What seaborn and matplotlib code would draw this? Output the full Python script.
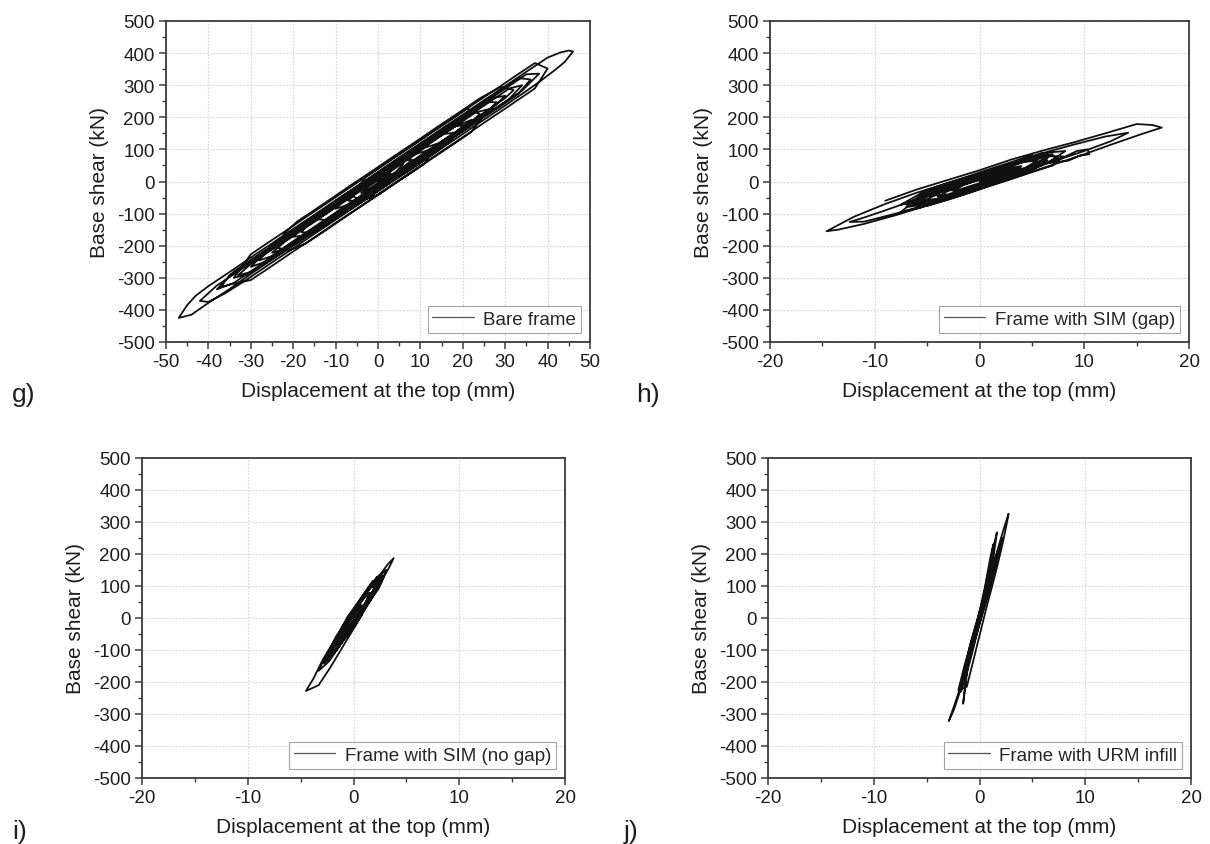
import matplotlib
matplotlib.use("Agg")
import matplotlib.pyplot as plt
from matplotlib.ticker import MultipleLocator
import seaborn as sns

# hysteresis traces: displacement at the top (mm) and base shear (kN)
# one line per half cycle

bare_disp = [0,
             2, 4, 6,
             4, 1, -2, -5, -7,
             -5, -2, 2, 6, 9, 12,
             9, 5, 1, -2, -4,
             -2, 0, 3,
             1, -2, -6, -10, -12, -14,
             -12, -8, -4, 0, 4, 8, 12, 15, 18,
             15, 11, 7, 3, -1, -5, -8, -10,
             -7, -3, 1, 5, 8,
             5, 2, -2, -6, -10, -14, -17, -20,
             -17, -13, -8, -3, 2, 7, 12, 16, 20, 24,
             21, 17, 13, 9, 5, 1, -3, -6,
             -4, 0, 4, 8, 11, 14,
             11, 6, 1, -4, -9, -14, -18, -22, -25,
             -22, -17, -12, -7, -2, 3, 8, 13, 18, 22, 25, 28,
             25, 21, 16, 11, 6, 1, -4, -9, -13, -16, -18,
             -15, -11, -6, -1, 4, 9, 13, 17, 20,
             17, 12, 7, 2, -3, -8, -13, -18, -22, -26, -30,
             -27, -22, -17, -12, -7, -2, 3, 8, 13, 18, 23, 27, 30, 32,
             29, 24, 19, 14, 9, 4, -1, -6, -11, -15, -19, -22, -24,
             -21, -17, -12, -7, -2, 3, 8, 13, 18, 22, 26,
             23, 18, 13, 8, 3, -2, -7, -12, -17, -22, -26, -30, -33,
             -30, -25, -20, -15, -10, -5, 0, 5, 10, 15, 20, 25, 29, 33, 36,
             33, 28, 23, 18, 13, 8, 3, -2, -7, -12, -17, -21, -25, -28,
             -25, -20, -15, -10, -5, 0, 5, 10, 15, 20, 24, 27, 30,
             27, 22, 17, 12, 7, 2, -3, -8, -13, -18, -23, -28, -32, -35, -37,
             -34, -30, -25, -20, -15, -10, -5, 0, 5, 10, 15, 20, 25, 30, 34, 37, 40,
             37, 33, 28, 23, 18, 13, 8, 3, -2, -7, -12, -17, -22, -26, -30, -34,
             -31, -26, -21, -16, -11, -6, -1, 4, 9, 14, 19, 24, 28, 31, 34,
             31, 26, 21, 16, 11, 6, 1, -4, -9, -14, -19, -24, -29, -34, -38, -42,
             -40, -36, -31, -26, -21, -16, -11, -6, -1, 4, 9, 14, 19, 24, 29, 34, 38, 42, 44, 46,
             45, 43, 40, 35, 30, 25, 20, 15, 10, 5, 0, -5, -10, -15, -20, -25, -30, -35, -40, -43, -45, -47,
             -44, -40, -35, -30, -25, -20, -15, -10, -5, 0, 5, 10, 15, 20, 25, 30, 34, 38,
             35, 30, 25, 20, 15, 10, 5, 0, -5, -10, -15, -20, -25, -30, -34, -38,
             -34, -28, -22, -16, -10, -4, 2, 8, 14, 18, 22,
             18, 13, 8, 3, 0]
bare_shear = [0,
              10, 27, 55,
              48, 21, -6, -33, -60,
              -60, -42, -6, 28, 56, 98,
              86, 50, 13, -14, -36,
              -22, -4, 25,
              30, 10, -25, -60, -82, -118,
              -120, -100, -66, -30, 6, 40, 76, 104, 152,
              147, 113, 78, 42, 6, -30, -58, -85,
              -72, -39, -4, 32, 68,
              66, 40, 4, -31, -67, -102, -130, -172,
              -168, -136, -91, -47, -2, 42, 87, 122, 158, 210,
              227, 191, 156, 120, 85, 49, 13, -45,
              -60, -42, -6, 29, 56, 118,
              105, 61, 17, -28, -72, -117, -152, -188, -222,
              -210, -166, -122, -77, -33, 12, 56, 101, 145, 181, 208, 247,
              247, 212, 167, 123, 78, 34, -11, -55, -91, -118, -158,
              -160, -126, -81, -37, 8, 52, 88, 123, 176,
              169, 125, 80, 36, -9, -53, -98, -142, -178, -213, -266,
              -252, -204, -159, -115, -70, -26, 19, 63, 108, 152, 197, 232, 260, 285,
              295, 259, 214, 170, 125, 81, 36, -8, -53, -89, -124, -160, -205,
              -215, -193, -149, -104, -60, -15, 29, 74, 118, 154, 225,
              215, 170, 126, 81, 37, -8, -52, -97, -141, -186, -221, -257, -292,
              -282, -243, -200, -156, -111, -67, -22, 23, 67, 112, 156, 201, 236, 272, 318,
              322, 277, 233, 188, 144, 99, 55, 10, -34, -79, -123, -159, -195, -246,
              -232, -190, -146, -101, -57, -12, 33, 77, 122, 166, 202, 229, 267,
              260, 216, 171, 127, 82, 38, -7, -51, -96, -140, -185, -229, -265, -292, -328,
              -318, -307, -263, -218, -174, -129, -85, -40, 5, 49, 94, 138, 183, 227, 263, 290, 352,
              369, 334, 289, 245, 200, 156, 111, 67, 22, -22, -67, -111, -156, -191, -227, -300,
              -290, -249, -205, -160, -116, -71, -27, 18, 62, 107, 151, 196, 231, 258, 300,
              290, 245, 201, 156, 112, 67, 23, -22, -66, -111, -155, -200, -244, -289, -324, -372,
              -375, -348, -306, -261, -217, -172, -128, -83, -39, 6, 50, 95, 139, 184, 228, 273, 310, 350, 372, 405,
              408, 402, 386, 342, 297, 253, 208, 164, 119, 75, 30, -15, -59, -104, -148, -193, -237, -282, -326, -356, -385, -425,
              -415, -378, -335, -288, -243, -198, -154, -109, -65, -20, 25, 69, 114, 158, 203, 247, 283, 336,
              334, 289, 245, 200, 156, 111, 67, 22, -23, -67, -112, -156, -201, -245, -281, -336,
              -316, -262, -208, -153, -99, -46, 8, 61, 115, 150, 192,
              170, 126, 81, 37, 8]

gap_disp = [0, 1, 2.5,
            1.5, 0, -1.5, -2.5,
            -1.5, 0, 2, 4,
            2.5, 0.5, -2, -4,
            -2.5, -0.5, 2, 4, 5.5,
            4, 2, -0.5, -3, -5.5,
            -3.5, -1, 2, 4.5, 7,
            5.5, 3, 0, -3, -5.5, -7,
            -5, -2, 1, 4, 6.5, 8.2,
            6.5, 3.5, 0.5, -2.5, -5.5, -7.5,
            -5.5, -3, 0, 3, 6.5,
            4, 1, -2, -4.5, -6.5,
            -5, -3, -1, 1, 3,
            2, 0, -2, -4, -5,
            -3, -1, 1, 3, 5, 6,
            4, 2, 0, -2, -3,
            -1, 1, 3, 5,
            3, 1, -1, -3, -5, -6.5,
            -5, -3, -1, 1, 3, 5, 7.5,
            6, 4, 2, 0, -2, -4,
            -2, 0, 2, 4,
            2, 0, -2, -4, -6, -7,
            -5, -3, -1, 1, 3, 5, 7, 8,
            6, 4, 2, 0, -2, -4, -6,
            -4, -2, 0, 2, 4, 6.5,
            5, 3, 1, -1, -3, -5, -7.5,
            -4, -1, 2, 5, 8, 9.3, 10.3, 10.5, 9.5, 8.5,
            6, 3, 0, -3, -6, -9, -11, -12.4,
            -11, -8, -5, -2, 1, 4, 7, 10, 12.5, 14.2,
            12, 9, 6, 3, 0, -3, -6, -9, -12, -14.6,
            -13.5, -11, -8, -5, -2, 1, 4, 7, 10, 13, 15.5, 17.4,
            16.5, 15, 12, 9, 6, 3, 0, -3, -6, -9]
gap_shear = [0, 8, 30,
             25, 12, -10, -30,
             -28, -12, 15, 48,
             40, 20, -10, -48,
             -42, -22, 10, 35, 65,
             60, 40, 12, -20, -65,
             -55, -30, 2, 35, 85,
             80, 55, 22, -10, -40, -80,
             -70, -42, -10, 25, 58, 95,
             90, 62, 30, -2, -40, -95,
             -80, -50, -18, 18, 75,
             62, 32, 0, -25, -65,
             -69, -47, -26, -4, 25,
             39, 18, -3, -25, -45,
             -40, -19, 3, 24, 46, 62,
             65, 43, 22, 1, -20,
             -33, -11, 10, 42,
             38, 17, -5, -26, -48, -72,
             -72, -50, -29, -7, 14, 36, 74,
             89, 68, 46, 25, 4, -30,
             -26, -5, 16, 40,
             33, 12, -9, -31, -52, -72,
             -76, -57, -36, -14, 7, 29, 50, 78,
             79, 58, 36, 15, -6, -28, -58,
             -55, -33, -12, 9, 31, 66,
             82, 60, 39, 17, -4, -26, -72,
             -55, -25, 10, 42, 75, 95, 100, 85, 80, 65,
             55, 30, 5, -25, -55, -90, -112, -126,
             -125, -100, -72, -40, -5, 30, 62, 95, 125, 152,
             140, 115, 88, 55, 25, -5, -35, -70, -110, -155,
             -150, -132, -105, -75, -45, -12, 20, 52, 85, 120, 148, 168,
             176, 179, 150, 122, 96, 68, 35, 5, -25, -60]

nogap_disp = [0, 0.4, 0.8,
              0.3, -0.3, -0.8,
              -0.3, 0.5, 1.1, 1.5,
              0.9, 0.1, -0.7, -1.5,
              -0.8, 0, 0.9, 1.6, 2.1,
              1.4, 0.5, -0.5, -1.4, -2.2,
              -1.3, -0.3, 0.7, 1.7, 2.7,
              1.9, 0.9, -0.1, -1.1, -2, -2.8,
              -1.9, -0.9, 0.1, 1.2, 2.4,
              1.6, 0.6, -0.4, -1.5, -2.5,
              -1.6, -0.8, 0, 0.8, 1.8,
              1.2, 0.4, -0.4, -1.2, -1.8, -2.4,
              -1.6, -0.8, 0, 0.8, 1.6, 2.5,
              1.8, 1, 0.2, -0.6, -1.2,
              -0.6, 0.2, 1.2,
              0.6, -0.2, -1, -1.8, -2.4, -2.9,
              -2.2, -1.4, -0.6, 0.2, 1, 1.8, 2.4, 2.9,
              2.2, 1.4, 0.6, -0.2, -1, -2,
              -1.4, -0.6, 0.2, 1, 2.2,
              1.6, 0.8, 0, -0.8, -1.6, -2.6,
              -1.6, -0.6, 0.5, 1.6, 2.5, 3.1,
              2.3, 1.3, 0.3, -0.8, -1.9, -2.8, -3.3,
              -2.3, -1.3, -0.2, 0.9, 2, 2.9, 3.4, 3.8,
              3.3, 2.5, 1.5, 0.4, -0.7, -1.8, -2.9, -3.8, -4.5,
              -3.3, -2.2, -1.2, -0.2, 0.8]
nogap_shear = [0, 10, 40,
               30, 0, -40,
               -25, 5, 45, 78,
               60, 25, -15, -78,
               -55, -20, 25, 65, 105,
               90, 45, 0, -50, -112,
               -85, -40, 10, 60, 135,
               115, 70, 20, -30, -85, -142,
               -115, -65, -15, 40, 125,
               100, 55, 5, -55, -130,
               -100, -63, -25, 13, 80,
               71, 34, -4, -41, -70, -112,
               -85, -48, -10, 28, 65, 115,
               115, 77, 39, 2, -40,
               -58, -21, 40,
               33, -4, -42, -80, -108, -140,
               -123, -86, -48, -11, 27, 65, 93, 130,
               128, 91, 53, 16, -22, -90,
               -71, -33, 4, 42, 103,
               95, 58, 20, -18, -55, -120,
               -100, -55, -5, 55, 105, 150,
               130, 80, 30, -25, -80, -130, -165,
               -135, -85, -30, 25, 85, 130, 160, 187,
               170, 135, 90, 40, -15, -70, -130, -190, -228,
               -210, -155, -100, -45, 10]

urm_disp = [0, 0.4, 0.8,
            0.5, 0, -0.4, -0.8,
            -0.4, 0.2, 0.7, 1.0, 1.3,
            1.0, 0.5, 0, -0.5, -0.9, -1.2,
            -0.8, -0.2, 0.4, 0.9, 1.3, 1.65,
            1.3, 0.8, 0.3, -0.3, -0.9, -1.4, -1.75,
            -1.3, -0.7, -0.1, 0.5, 1.1, 1.6, 2.2,
            1.7, 1.1, 0.5, -0.1, -0.7, -1.2, -1.55,
            -1.1, -0.6, -0.1, 0.4, 0.9, 1.5,
            1.1, 0.6, 0.1, -0.4, -0.9, -1.4,
            -1, -0.5, 0, 0.5, 1, 1.5, 2.0,
            1.6, 1.1, 0.6, 0.1, -0.4, -0.9, -1.4, -2.0,
            -1.2, -0.6, 0, 0.6, 1.2, 1.7, 2.2, 2.55, 2.75,
            2.4, 1.9, 1.3, 0.7, 0.1, -0.5, -1.1, -1.7, -2.3, -2.9,
            -2.4, -1.8, -1.2, -0.6, 0]
urm_shear = [0, 40, 100,
             70, 5, -45, -95,
             -60, 10, 90, 150, 230,
             185, 95, 20, -60, -115, -150,
             -110, -35, 45, 115, 185, 268,
             220, 135, 55, -25, -100, -170, -230,
             -185, -110, -30, 45, 115, 175, 250,
             205, 140, 70, -5, -85, -165, -268,
             -150, -89, -31, 26, 84, 172,
             146, 89, 31, -26, -84, -161,
             -130, -72, -15, 42, 100, 157, 225,
             199, 141, 84, 26, -31, -89, -146, -225,
             -215, -135, -55, 25, 100, 165, 235, 290, 326,
             290, 235, 165, 90, 15, -60, -135, -205, -265, -322,
             -285, -225, -150, -75, 0]

panel_names = ["Bare frame", "Frame with SIM (gap)", "Frame with SIM (no gap)", "Frame with URM infill"]
panel_letters = ["g)", "h)", "i)", "j)"]

sns.set_theme(style="white")
plt.rcParams["font.family"] = ["Liberation Sans", "DejaVu Sans"]
plt.rcParams["axes.unicode_minus"] = False

fig = plt.figure(figsize=(12.1, 8.45), dpi=100)

# axes boxes in pixels: left, top, right, bottom
boxes = [(166, 22, 590, 343), (770, 22, 1189, 343),
         (142, 459, 565, 779), (768, 459, 1191, 779)]
letter_pos = [(12, 395), (636, 395), (12, 832), (624, 832)]
xlims = [(-50, 50), (-20, 20), (-20, 20), (-20, 20)]
traces = [(bare_disp, bare_shear), (gap_disp, gap_shear),
          (nogap_disp, nogap_shear), (urm_disp, urm_shear)]

W, H = 1210, 845
for i in range(4):
    l, t, r, b = boxes[i]
    ax = fig.add_axes([l / W, 1 - b / H, (r - l) / W, (b - t) / H])
    x, y = traces[i]
    sns.lineplot(x=x, y=y, sort=False, estimator=None, ax=ax,
                 color="#111111", lw=1.3, label=panel_names[i])

    ax.set_xlim(*xlims[i])
    ax.set_ylim(-500, 500)
    ax.xaxis.set_major_locator(MultipleLocator(10))
    ax.xaxis.set_minor_locator(MultipleLocator(5))
    ax.yaxis.set_major_locator(MultipleLocator(100))
    ax.yaxis.set_minor_locator(MultipleLocator(50))
    ax.grid(True, which="major", color="#d4d4d4", linestyle=(0, (1.5, 1.5)), lw=0.8)
    ax.set_axisbelow(True)

    for s in ax.spines.values():
        s.set_visible(True)
        s.set_color("#3a3a3a")
        s.set_linewidth(1.3)
    ax.tick_params(which="both", bottom=True, left=True, direction="out",
                   color="#3a3a3a", labelcolor="#1e1e1e")
    ax.tick_params(which="major", length=5, width=1.1, labelsize=13.5, pad=3)
    ax.tick_params(which="minor", length=3, width=1.0)

    ax.set_xlabel("Displacement at the top (mm)", fontsize=15, color="#1e1e1e", labelpad=8)
    ax.set_ylabel("Base shear (kN)", fontsize=15, color="#1e1e1e", labelpad=6)

    leg = ax.legend(loc="lower right", fontsize=13.5, frameon=True, fancybox=False,
                    edgecolor="#8c8c8c", handlelength=2.2, borderpad=0.25,
                    borderaxespad=0.5, handletextpad=0.5)
    leg.get_frame().set_linewidth(0.8)
    leg.get_lines()[0].set_color("#555555")
    leg.get_lines()[0].set_linewidth(0.9)

    fig.text(letter_pos[i][0] / W, 1 - letter_pos[i][1] / H, panel_letters[i],
             fontsize=19, va="center", ha="left", color="#1e1e1e")

fig.savefig("out.png", dpi=100)
